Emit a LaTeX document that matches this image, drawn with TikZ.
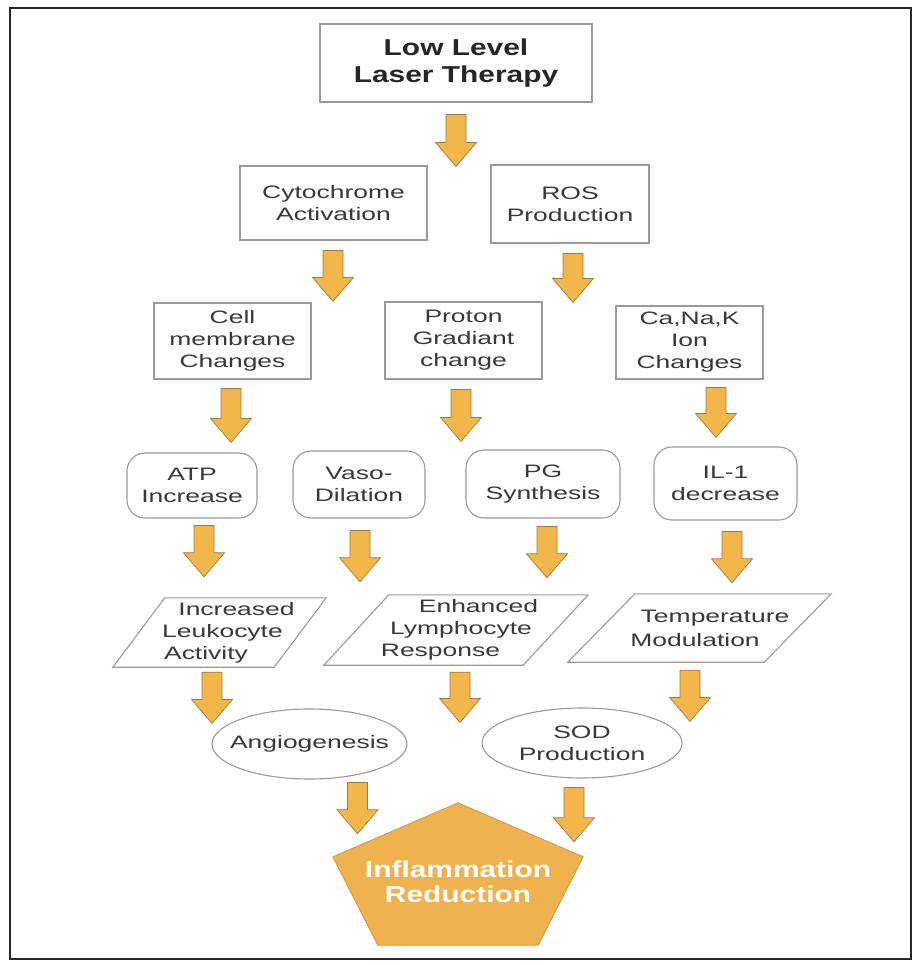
\documentclass[tikz,border=0pt]{standalone}
\usepackage{fontspec}
\setmainfont{Liberation Sans}[FakeStretch=1.47]
\newfontfamily\titlefont{Liberation Sans}[FakeStretch=1.3]
\usetikzlibrary{shapes.geometric,calc}
\definecolor{arrowfill}{HTML}{F2B64A}
\definecolor{arrowline}{HTML}{9C7E45}
\definecolor{boxline}{HTML}{9A9A9A}
\definecolor{txt}{HTML}{383838}
\definecolor{pentfill}{HTML}{EFB24F}
\definecolor{pentline}{HTML}{C99A4A}
\begin{document}
\begin{tikzpicture}[x=1pt,y=-1pt,
  txtstyle/.style={font=\fontsize{18}{22}\selectfont, text=txt, align=center, inner sep=0pt},
  rectbox/.style={txtstyle, draw=boxline, line width=1.1pt, rectangle},
  roundbox/.style={rectbox, rounded corners=18pt},
  ovalbox/.style={txtstyle, draw=boxline, line width=1.1pt, ellipse},
  parabox/.style={txtstyle, rectangle},
  parashape/.style={draw=boxline, line width=1.1pt, line join=miter},
  titletext/.style={font={\titlefont\bfseries\fontsize{23}{27}\selectfont}},
  blockarrow/.style={fill=arrowfill, draw=arrowline, line width=0.7pt, line join=miter,
    to path={let \p1=(\tikztostart), \p2=(\tikztotarget) in
      (\x1-10pt,\y1) -- (\x1+10pt,\y1) -- (\x1+10pt,\y2+24pt) -- (\x1+20.5pt,\y2+24pt)
      -- (\x1,\y2) -- (\x1-20.5pt,\y2+24pt) -- (\x1-10pt,\y2+24pt) -- cycle}},
]
\useasboundingbox (0,0) rectangle (913,965);
\fill[white] (0,0) rectangle (913,965);
\draw[line width=1.3pt, draw=black!85] (10,8) rectangle (911,959);

% boxes
\node[rectbox, titletext, text=black!85, minimum width=272pt, minimum height=78pt] (lllt) at (456,63) {Low Level\\Laser Therapy};
\node[rectbox, minimum width=187pt, minimum height=74pt] (cyto) at (333.5,203) {Cytochrome\\Activation};
\node[rectbox, minimum width=158pt, minimum height=78pt] (ros) at (570,204) {ROS\\Production};
\node[rectbox, minimum width=157pt, minimum height=76pt] (cell) at (232.5,341) {Cell\\membrane\\Changes};
\node[rectbox, minimum width=157pt, minimum height=77pt] (proton) at (463.5,340.5) {Proton\\Gradiant\\change};
\node[rectbox, minimum width=147pt, minimum height=73pt] (ca) at (689.5,342.5) {Ca,Na,K\\Ion\\Changes};

\node[roundbox, minimum width=130pt, minimum height=65pt] (atp) at (192,485.5) {ATP\\Increase};
\node[roundbox, minimum width=132pt, minimum height=67pt] (vaso) at (359,484.5) {Vaso-\\Dilation};
\node[roundbox, minimum width=154pt, minimum height=68pt] (pg) at (543,484) {PG\\Synthesis};
\node[roundbox, minimum width=143pt, minimum height=73pt] (il1) at (725.5,483.5) {IL-1\\decrease};

\node[parabox, minimum width=213pt, minimum height=69pt] (para1) at (219.5,632.5)
  {\hspace*{34pt}Increased\\\hspace*{6pt}Leukocyte\\Activity\hspace*{27pt}};
\draw[parashape] ([xshift=52pt]para1.north west) -- (para1.north east) -- ([xshift=-52pt]para1.south east) -- (para1.south west) -- cycle;
\node[parabox, minimum width=264pt, minimum height=70pt] (para2) at (456,630)
  {\hspace*{45pt}Enhanced\\\hspace*{10pt}Lymphocyte\\Response\hspace*{31pt}};
\draw[parashape] ([xshift=65pt]para2.north west) -- (para2.north east) -- ([xshift=-65pt]para2.south east) -- (para2.south west) -- cycle;
\node[parabox, font=\fontsize{18}{24}\selectfont, minimum width=263pt, minimum height=68pt] (para3) at (699.5,628)
  {\hspace*{31pt}Temperature\\Modulation\hspace*{9pt}};
\draw[parashape] ([xshift=67pt]para3.north west) -- (para3.north east) -- ([xshift=-67pt]para3.south east) -- (para3.south west) -- cycle;

\node[ovalbox, inner xsep=-14pt, minimum width=195pt, minimum height=70pt] (angio) at (309.5,744) {Angiogenesis};
\node[ovalbox, minimum width=200pt, minimum height=70pt] (sod) at (582,743) {SOD\\Production};

\node[minimum width=250pt, minimum height=142pt, inner sep=0pt] (pent) at (458,874) {};
\filldraw[fill=pentfill, draw=pentline, line width=0.8pt, line join=miter]
  (pent.north) -- ([yshift=-54pt]pent.north east) -- ([xshift=-45pt]pent.south east)
  -- ([xshift=45pt]pent.south west) -- ([yshift=-54pt]pent.north west) -- cycle;
\node[titletext, font={\titlefont\bfseries\fontsize{23}{25}\selectfont}, text=white, align=center, inner sep=0pt] (pentext) at ([yshift=-8pt]pent.center) {Inflammation\\Reduction};

% block arrows
\path[blockarrow] ([yshift=-12pt]lllt.south) to ([yshift=-1pt]cyto.north);
\path[blockarrow] ([xshift=-0.5pt,yshift=-10pt]cyto.south) to ([yshift=1pt]cell.north);
\path[blockarrow] ([xshift=3pt,yshift=-10pt]ros.south) to ([yshift=3pt]ca.north);
\path[blockarrow] ([xshift=-1.5pt,yshift=-9pt]cell.south) to ([yshift=10pt]atp.north);
\path[blockarrow] ([xshift=-2.5pt,yshift=-10pt]proton.south) to ([yshift=8pt]pg.north);
\path[blockarrow] ([xshift=26.5pt,yshift=-8pt]ca.south) to ([yshift=9pt]il1.north);
\path[blockarrow] ([xshift=12pt,yshift=-7pt]atp.south) to ([yshift=21pt]para1.north);
\path[blockarrow] ([xshift=1pt,yshift=-12pt]vaso.south) to ([yshift=13pt]para2.north);
\path[blockarrow] ([xshift=4pt,yshift=-8pt]pg.south) to ([yshift=17pt]para2.north);
\path[blockarrow] ([xshift=6.5pt,yshift=-11pt]il1.south) to ([yshift=11pt]para3.north);
\path[blockarrow] ([xshift=-7.5pt,yshift=-5pt]para1.south) to ([yshift=-15pt]angio.north);
\path[blockarrow] ([xshift=4pt,yshift=-7pt]para2.south) to ([yshift=-15pt]sod.north);
\path[blockarrow] ([xshift=-9.5pt,yshift=-8pt]para3.south) to ([yshift=-14pt]sod.north);
\path[blockarrow] ([xshift=48pt,yshift=-3pt]angio.south) to ([yshift=-31pt]pent.north);
\path[blockarrow] ([xshift=-8pt,yshift=-9pt]sod.south) to ([yshift=-39pt]pent.north);
\end{tikzpicture}
\end{document}
